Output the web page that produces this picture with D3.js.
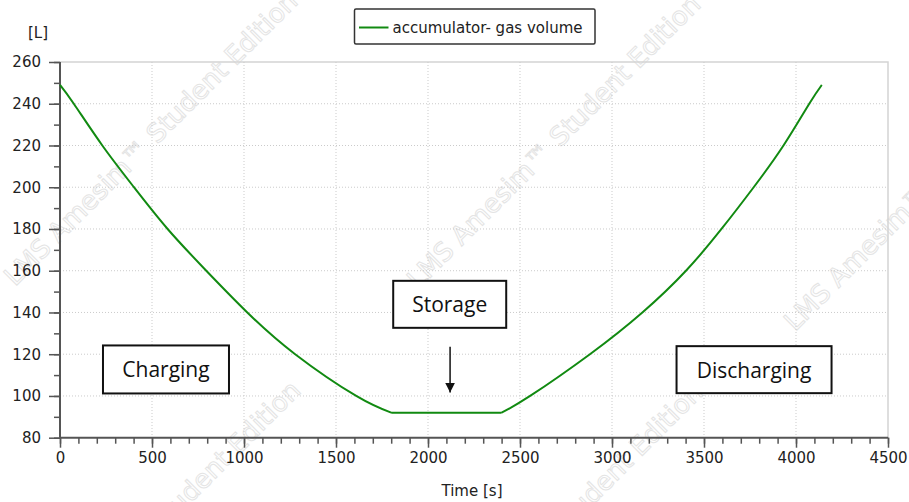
<!DOCTYPE html>
<html>
<head>
<meta charset="utf-8">
<script src="https://cdn.jsdelivr.net/npm/d3@7"></script>
<style>
  html, body { margin: 0; padding: 0; background: #fff; }
  svg { display: block; }
</style>
</head>
<body>
<svg id="chart" width="909" height="502"></svg>
<script>
// Accumulator gas volume over one charge / store / discharge cycle
const timeSec = [0, 75, 230, 402, 585, 795, 1018, 1278, 1610, 1800,
                 2400, 2555, 2880, 3165, 3402, 3595, 3770, 3932, 4072, 4140];
const gasVolume = [249, 240, 220, 200, 180, 160, 140, 120, 100, 92,
                   92, 100, 120, 140, 160, 180, 200, 220, 240, 249];
// index ranges of the three operating phases
const phaseBreaks = [[0, 9], [9, 10], [10, 19]];

const xTicks = [0, 500, 1000, 1500, 2000, 2500, 3000, 3500, 4000, 4500];
const yTicks = [80, 100, 120, 140, 160, 180, 200, 220, 240, 260];
const seriesName = "accumulator- gas volume";
const xTitle = "Time [s]";
const yTitle = "[L]";

// phase annotations: label, centre time, centre volume, box width/height
const notes = [
  { label: "Charging",    t: 576,  v: 112.7, w: 126, h: 48 },
  { label: "Storage",     t: 2118, v: 143.9, w: 113, h: 47 },
  { label: "Discharging", t: 3772, v: 112.6, w: 155, h: 47 }
];
const storageArrow = { t: 2120, from: 123.6, to: 101.6 };

const W = 909, H = 502;
const margin = { top: 62, right: 21, bottom: 64.3, left: 60 };
const svg = d3.select("#chart");

const x = d3.scaleLinear().domain([0, 4500]).range([margin.left, W - margin.right]);
const y = d3.scaleLinear().domain([80, 260]).range([H - margin.bottom, margin.top]);

// faint outlined watermark text, tiled diagonally
const wm = svg.append("g").attr("class", "watermark");
const wmOrigins = [[15, 287], [418, 290], [795, 332], [18, 676], [420, 678], [820, 705]];
wmOrigins.forEach(([ox, oy]) => {
  wm.append("text")
    .attr("transform", `translate(${ox},${oy}) rotate(-45)`)
    .attr("font-family", "DejaVu Sans, sans-serif")
    .attr("font-size", 26)
    .attr("fill", "none")
    .attr("stroke", "#e4e4e4")
    .attr("stroke-width", 1)
    .text("LMS Amesim\u2122 Student Edition");
});

// plot frame: light top/right border
const x0 = x.range()[0], x1 = x.range()[1], yb = y.range()[0], yt = y.range()[1];
svg.append("path")
  .attr("d", `M${x0},${yt}H${x1}V${yb}`)
  .attr("fill", "none").attr("stroke", "#d4d4d4").attr("stroke-width", 1.5);

// dotted grid
const grid = svg.append("g").attr("stroke", "#cbcbcb").attr("stroke-width", 1)
  .attr("stroke-dasharray", "1,2");
grid.selectAll("line.gx").data(xTicks.filter(d => d > 0 && d < 4500)).join("line")
  .attr("x1", d => x(d)).attr("x2", d => x(d)).attr("y1", yt).attr("y2", yb);
grid.selectAll("line.gy").data(yTicks.filter(d => d > 80 && d < 260)).join("line")
  .attr("y1", d => y(d)).attr("y2", d => y(d)).attr("x1", x0).attr("x2", x1);

// axes with major and minor ticks
const axisColor = "#555";
const tickFont = "DejaVu Sans, sans-serif";

const xMinor = svg.append("g").attr("transform", `translate(0,${yb})`)
  .call(d3.axisBottom(x).tickValues(d3.range(0, 4501, 100)).tickSize(6).tickFormat(""));
const xMajor = svg.append("g").attr("transform", `translate(0,${yb})`)
  .call(d3.axisBottom(x).tickValues(xTicks).tickSize(10).tickPadding(5).tickFormat(d3.format("d")));
const yMinor = svg.append("g").attr("transform", `translate(${x0},0)`)
  .call(d3.axisLeft(y).tickValues(d3.range(80, 261, 10)).tickSize(6).tickFormat(""));
const yMajor = svg.append("g").attr("transform", `translate(${x0},0)`)
  .call(d3.axisLeft(y).tickValues(yTicks).tickSize(11).tickPadding(8).tickFormat(d3.format("d")));

[xMinor, xMajor, yMinor, yMajor].forEach(g => {
  g.select(".domain").attr("stroke", axisColor).attr("stroke-width", 2);
  g.selectAll(".tick line").attr("stroke", axisColor).attr("stroke-width", 1.5);
  g.selectAll(".tick text").attr("fill", "#222").attr("font-family", tickFont)
    .attr("font-size", 15);
});
xMajor.select(".domain").attr("d", `M${x0},0H${x1}`);
yMajor.select(".domain").attr("d", `M0,${yb}V${yt}`);
xMinor.select(".domain").remove();
yMinor.select(".domain").remove();

// axis titles
svg.append("text").attr("x", 472).attr("y", 496).attr("text-anchor", "middle")
  .attr("font-family", tickFont).attr("font-size", 15).attr("fill", "#222").text(xTitle);
svg.append("text").attr("x", 28).attr("y", 38)
  .attr("font-family", tickFont).attr("font-size", 15).attr("fill", "#222").text(yTitle);

// gas volume curve, one smooth piece per phase
const pts = timeSec.map((t, i) => [t, gasVolume[i]]);
const lineGen = d3.line().x(d => x(d[0])).y(d => y(d[1])).curve(d3.curveNatural);
const pathD = phaseBreaks.map(([a, b]) => lineGen(pts.slice(a, b + 1))).join("");
svg.append("path").attr("d", pathD).attr("fill", "none")
  .attr("stroke", "#118a11").attr("stroke-width", 2).attr("stroke-linejoin", "miter");

// legend
const lg = svg.append("g");
lg.append("rect").attr("x", 354.5).attr("y", 9).attr("width", 240.5).attr("height", 35)
  .attr("rx", 1.5).attr("fill", "#fff").attr("stroke", "#333").attr("stroke-width", 1.5);
lg.append("line").attr("x1", 359).attr("x2", 388.5).attr("y1", 27.5).attr("y2", 27.5)
  .attr("stroke", "#118a11").attr("stroke-width", 2);
lg.append("text").attr("x", 392.5).attr("y", 33).attr("font-family", tickFont)
  .attr("font-size", 15).attr("fill", "#222").text(seriesName);

// phase annotations
const ann = svg.append("g");
notes.forEach(n => {
  const cx = x(n.t), cy = y(n.v);
  ann.append("rect").attr("x", cx - n.w / 2).attr("y", cy - n.h / 2)
    .attr("width", n.w).attr("height", n.h)
    .attr("fill", "#fff").attr("stroke", "#111").attr("stroke-width", 2);
  ann.append("text").attr("x", cx).attr("y", cy).attr("text-anchor", "middle")
    .attr("dominant-baseline", "central")
    .attr("font-family", "Open Sans, sans-serif").attr("font-size", 21)
    .attr("fill", "#111").text(n.label);
});

svg.append("defs").append("marker").attr("id", "arrowHead")
  .attr("viewBox", "0 0 10 10").attr("refX", 10).attr("refY", 5)
  .attr("markerWidth", 10).attr("markerHeight", 10).attr("markerUnits", "userSpaceOnUse")
  .attr("orient", "auto")
  .append("path").attr("d", "M0,0L10,5L0,10Z").attr("fill", "#111");
ann.append("line")
  .attr("x1", x(storageArrow.t)).attr("x2", x(storageArrow.t))
  .attr("y1", y(storageArrow.from)).attr("y2", y(storageArrow.to))
  .attr("stroke", "#111").attr("stroke-width", 1.5).attr("marker-end", "url(#arrowHead)");
</script>
</body>
</html>
